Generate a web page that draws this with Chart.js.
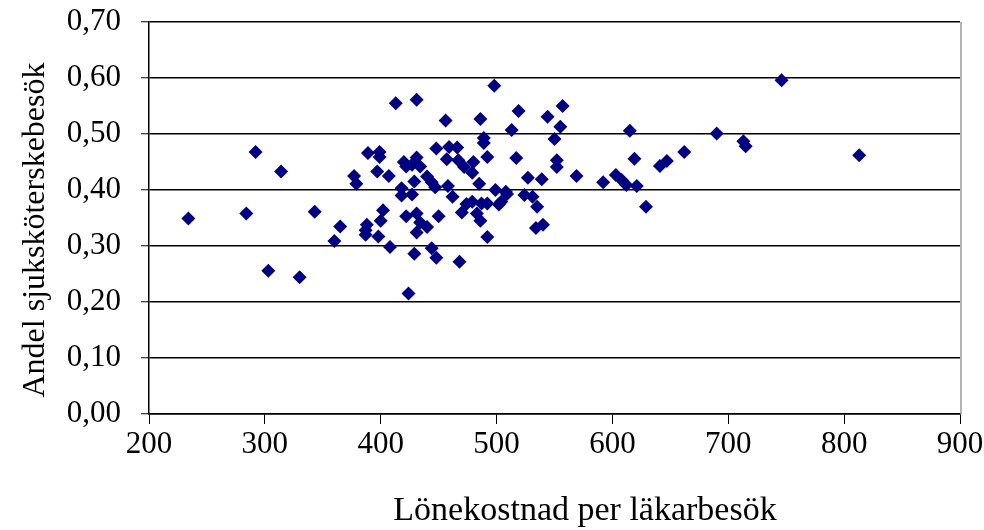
<!DOCTYPE html>
<html>
<head>
<meta charset="utf-8">
<script src="https://cdn.jsdelivr.net/npm/chart.js@4.4.1/dist/chart.umd.min.js"></script>
<style>
  html, body { margin: 0; padding: 0; background: #fff; }
  #wrap { width: 984px; height: 530px; }
</style>
</head>
<body>
<div id="wrap"><canvas id="scatter-chart" width="984" height="530"></canvas></div>
<script>
// Lönekostnad per läkarbesök (x) vs andel sjuksköterskebesök (y)
const costPerVisit = [
  234, 284, 292, 303, 314, 330, 343, 365, 360, 377,
  379, 388, 387, 387, 389, 399, 399, 397, 407, 402,
  400, 398, 408, 413, 431, 420, 422, 431, 434, 427,
  429, 440, 444, 447, 418, 418, 427, 448, 456, 459,
  466, 457, 467, 472, 480, 479, 458, 462, 485, 486,
  498, 519, 544, 557, 555, 513, 550, 489, 489, 492,
  517, 552, 552, 527, 539, 569, 499, 508, 509, 504,
  502, 524, 531, 535, 474, 470, 479, 487, 492, 483,
  486, 450, 422, 431, 434, 440, 431, 492, 534, 540,
  429, 444, 448, 468, 424, 746, 615, 690, 713, 715,
  813, 662, 619, 641, 647, 592, 603, 608, 612, 621,
  629
];
const nurseShare = [
  0.349, 0.358, 0.468, 0.256, 0.433, 0.244, 0.361, 0.335, 0.309, 0.425,
  0.411, 0.338, 0.328, 0.320, 0.466, 0.468, 0.459, 0.433, 0.425, 0.364,
  0.345, 0.317, 0.298, 0.555, 0.561, 0.450, 0.442, 0.458, 0.442, 0.445,
  0.415, 0.424, 0.414, 0.405, 0.403, 0.390, 0.392, 0.474, 0.524, 0.477,
  0.476, 0.455, 0.453, 0.441, 0.450, 0.431, 0.407, 0.388, 0.411, 0.527,
  0.586, 0.541, 0.531, 0.550, 0.513, 0.507, 0.491, 0.493, 0.484, 0.459,
  0.457, 0.453, 0.441, 0.422, 0.419, 0.425, 0.400, 0.397, 0.393, 0.379,
  0.374, 0.391, 0.388, 0.370, 0.375, 0.360, 0.379, 0.376, 0.376, 0.358,
  0.345, 0.353, 0.353, 0.358, 0.342, 0.334, 0.324, 0.316, 0.332, 0.338,
  0.286, 0.296, 0.279, 0.272, 0.215, 0.596, 0.506, 0.501, 0.487, 0.478,
  0.462, 0.468, 0.456, 0.443, 0.452, 0.414, 0.427, 0.418, 0.409, 0.407,
  0.370
];
const xTickLabels = ['200', '300', '400', '500', '600', '700', '800', '900'];
const yTickLabels = ['0,00', '0,10', '0,20', '0,30', '0,40', '0,50', '0,60', '0,70'];
const xTitle = 'Lönekostnad per läkarbesök';
const yTitle = 'Andel sjuksköterskebesök';

document.addEventListener('DOMContentLoaded', () => {
  const el = document.getElementById('scatter-chart');
  const serif = 'Liberation Serif, Times New Roman, serif';

  // gray right edge of the plot area + axis titles placed where Excel put them
  const frame = {
    id: 'frame',
    afterDraw(chart) {
      const { ctx, chartArea: a } = chart;
      ctx.save();
      ctx.strokeStyle = '#9a9a9a';
      ctx.lineWidth = 1.5;
      ctx.beginPath();
      ctx.moveTo(a.right + 1, a.top);
      ctx.lineTo(a.right + 1, a.bottom);
      ctx.stroke();

      ctx.fillStyle = '#000';
      ctx.textAlign = 'center';
      ctx.textBaseline = 'middle';
      ctx.font = '34px ' + serif;
      ctx.fillText(xTitle, 585, 511);

      ctx.translate(36, 230);
      ctx.rotate(-Math.PI / 2);
      ctx.font = '32px ' + serif;
      ctx.fillText(yTitle, 0, 0);
      ctx.restore();
    }
  };

  new Chart(el, {
    type: 'scatter',
    data: {
      datasets: [{
        data: costPerVisit.map((x, i) => ({ x: x, y: nurseShare[i] })),
        pointStyle: 'rectRot',
        pointRadius: 7,
        backgroundColor: '#000080',
        borderColor: '#000080',
        borderWidth: 0
      }]
    },
    options: {
      responsive: false,
      animation: false,
      events: [],
      layout: { padding: { top: 22, right: 24, left: 0, bottom: 0 } },
      plugins: { legend: { display: false }, tooltip: { enabled: false } },
      scales: {
        x: {
          type: 'linear',
          min: 200,
          max: 900,
          afterFit: s => { s.height = 116; s.paddingLeft = 0; s.paddingRight = 0; },
          afterBuildTicks: s => { s.ticks = xTickLabels.map(t => ({ value: Number(t) })); },
          ticks: {
            callback: (v, i) => xTickLabels[i],
            color: '#000',
            font: { family: serif, size: 31 },
            padding: 2,
            maxRotation: 0
          },
          grid: { drawOnChartArea: false, tickLength: 10, tickColor: '#000', tickWidth: 1 },
          border: { color: '#000', width: 1.5 }
        },
        y: {
          min: 0,
          max: 0.7,
          afterFit: s => { s.width = 149; s.paddingTop = 0; s.paddingBottom = 0; },
          afterBuildTicks: s => { s.ticks = yTickLabels.map((t, i) => ({ value: i / 10 })); },
          ticks: {
            callback: (v, i) => yTickLabels[i],
            color: '#000',
            font: { family: serif, size: 31 },
            padding: 20
          },
          grid: { color: '#000', lineWidth: 1.5, tickLength: 8, tickColor: '#000', tickWidth: 1 },
          border: { color: '#000', width: 1.5 }
        }
      }
    },
    plugins: [frame]
  });
});
</script>
</body>
</html>
